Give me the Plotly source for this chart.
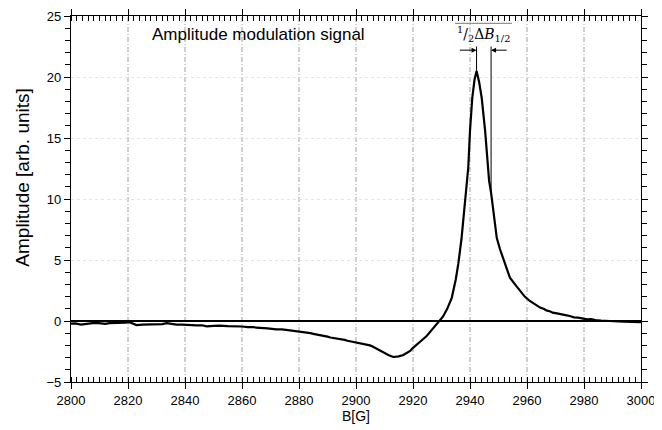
import plotly.graph_objects as go

# field [G] and amplitude [arb. units]
field = [2800, 2801.5, 2803.5, 2805, 2806, 2807.5, 2809, 2810.5, 2812, 2813.5, 2815,
         2817, 2819, 2820.5, 2822, 2823, 2825, 2827, 2829, 2830, 2832, 2833.6, 2835,
         2837, 2839, 2840.6, 2842, 2844, 2846, 2847.6, 2850, 2852, 2855, 2858, 2860,
         2862, 2864, 2865, 2867, 2869, 2872, 2874, 2876.8, 2878, 2880, 2881.5,
         2882.7, 2884, 2885, 2887, 2888.5, 2890, 2891, 2892.5, 2894.4, 2896, 2897,
         2898.5, 2900.2, 2902, 2903.5, 2904.9, 2906, 2907, 2908.5, 2909.6, 2910.5,
         2911.5, 2913.1, 2914, 2915, 2916.6, 2918, 2919, 2920, 2921.3, 2923,
         2924.8, 2926.6, 2928.3, 2929.5, 2930.5, 2932, 2933.6, 2935, 2935.9, 2937,
         2937.6, 2938.2, 2938.8, 2939.4, 2940, 2940.8, 2941.6, 2942.3, 2943.2,
         2944.1, 2945.3, 2946.7, 2947.4, 2948.3, 2949.4, 2950.5, 2951.7, 2952.8,
         2954, 2955.8, 2957.5, 2959.2, 2961, 2962.8, 2964.6, 2966, 2967, 2968,
         2969, 2970.5, 2972, 2973.5, 2975, 2976.5, 2978, 2979.5, 2981, 2982.5,
         2984, 2986, 2988, 2990, 2992, 2994, 2996, 2998, 3000]
amplitude = [-0.22, -0.2, -0.3, -0.24, -0.2, -0.18, -0.16, -0.22, -0.24, -0.17, -0.17,
             -0.15, -0.14, -0.1, -0.25, -0.33, -0.3, -0.28, -0.3, -0.28, -0.26, -0.18, -0.24,
             -0.3, -0.3, -0.33, -0.3, -0.36, -0.35, -0.44, -0.4, -0.38, -0.42, -0.41, -0.45,
             -0.5, -0.49, -0.55, -0.56, -0.6, -0.68, -0.68, -0.77, -0.8, -0.88, -0.92,
             -0.95, -1.0, -1.05, -1.12, -1.23, -1.28, -1.35, -1.4, -1.5, -1.55, -1.62,
             -1.68, -1.78, -1.85, -1.92, -2.0, -2.12, -2.25, -2.42, -2.6, -2.72,
             -2.8, -2.95, -2.94, -2.9, -2.79, -2.62, -2.46, -2.2, -1.91, -1.6,
             -1.23, -0.75, -0.27, 0.0, 0.35, 1.0, 1.9, 3.4, 4.7, 6.7,
             8.2, 9.7, 11.5, 12.6, 15.6, 18.3, 19.8, 20.5, 19.6,
             18.3, 15.6, 11.5, 10.5, 8.8, 6.8, 5.9, 5.1, 4.3,
             3.55, 3.0, 2.5, 2.0, 1.64, 1.35, 1.1, 0.98, 0.85, 0.8,
             0.68, 0.62, 0.52, 0.48, 0.41, 0.3, 0.27, 0.2, 0.14, 0.16,
             0.08, 0.04, 0.0, 0.02, -0.04, -0.05, -0.08, -0.08, -0.1]

x_ticks = [2800, 2820, 2840, 2860, 2880, 2900, 2920, 2940, 2960, 2980, 3000]
y_ticks = [-5, 0, 5, 10, 15, 20, 25]

peak_b = 2942.3
half_b = 2947.4

fig = go.Figure()

fig.add_trace(go.Scatter(x=field, y=amplitude, mode="lines",
                         line=dict(color="black", width=2.2), showlegend=False))

# vertical dash-dot grid
for xv in x_ticks[1:-1]:
    fig.add_shape(type="line", x0=xv, x1=xv, y0=-5, y1=25, layer="below",
                  line=dict(color="#a0a0a0", width=1, dash="5px,2px,1px,2px"))

# half-width marker lines
fig.add_shape(type="line", x0=peak_b, x1=peak_b, y0=20.5, y1=22.5,
              line=dict(color="black", width=1))
fig.add_shape(type="line", x0=half_b, x1=half_b, y0=10.6, y1=22.5,
              line=dict(color="black", width=1))
fig.add_shape(type="line", x0=2934.7, x1=2954.7, y0=24.4, y1=24.4,
              line=dict(color="#555555", width=0.8))

fig.add_annotation(x=peak_b, y=22.2, ax=2935.9, ay=22.2, xref="x", yref="y",
                   axref="x", ayref="y", showarrow=True, arrowhead=2,
                   arrowsize=1, arrowwidth=1, arrowcolor="black", text="")
fig.add_annotation(x=half_b, y=22.2, ax=2953.4, ay=22.2, xref="x", yref="y",
                   axref="x", ayref="y", showarrow=True, arrowhead=2,
                   arrowsize=1, arrowwidth=1, arrowcolor="black", text="")
fig.add_annotation(x=2944.6, y=23.5, xref="x", yref="y", showarrow=False,
                   text="<sup>1</sup>/<sub>2</sub>Δ<i>B</i><sub>1/2</sub>",
                   font=dict(family="DejaVu Serif", size=14, color="black"))

fig.add_annotation(x=2827.7, y=23.5, xref="x", yref="y", showarrow=False,
                   xanchor="left", text="Amplitude modulation signal",
                   font=dict(family="Liberation Sans", size=17, color="black"))

# y-axis title placed by hand (sits above the plot centre in the reference)
fig.add_annotation(x=-0.085, y=0.557, xref="paper", yref="paper", showarrow=False,
                   xanchor="center", yanchor="middle",
                   textangle=-90, text="Amplitude [arb. units]",
                   font=dict(family="Liberation Sans", size=19, color="black"))

axis_common = dict(showline=True, linecolor="black", linewidth=1.2, mirror="ticks",
                   ticks="outside", ticklen=6, tickcolor="black", automargin=False,
                   tickfont=dict(family="Liberation Sans", size=13, color="black"))

fig.update_xaxes(range=[2800, 3000], tickvals=x_ticks, showgrid=False, zeroline=False,
                 title=dict(text="B[G]", standoff=4,
                            font=dict(family="Liberation Sans", size=14, color="black")),
                 minor=dict(dtick=2, ticks="inside", ticklen=5, tickcolor="black"),
                 **axis_common)
fig.update_yaxes(range=[-5, 25], tickvals=y_ticks, showgrid=True,
                 gridcolor="#e4e4e4", griddash="dot", gridwidth=1,
                 zeroline=True, zerolinecolor="black", zerolinewidth=2,
                 minor=dict(dtick=1, ticks="outside", ticklen=5, tickcolor="black"),
                 **axis_common)

# page body adds an 8px margin, so the figure is 8px smaller on each side
fig.update_layout(width=654, height=422, plot_bgcolor="white", paper_bgcolor="white",
                  margin=dict(l=63, r=21, t=8, b=48))

fig.write_html("out.html")
